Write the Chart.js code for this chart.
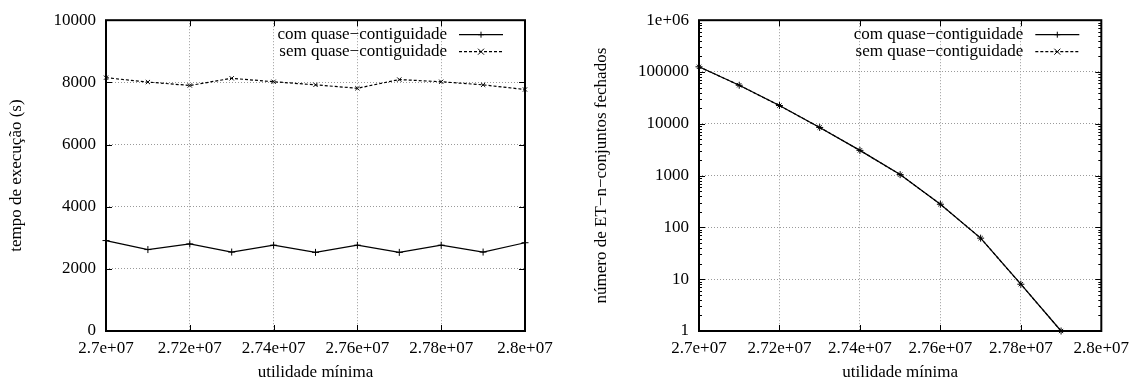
<!DOCTYPE html>
<html lang="pt">
<head>
<meta charset="UTF-8">
<title>utilidade mínima</title>
<script src="https://cdn.jsdelivr.net/npm/chart.js"></script>
<style>
  html, body { margin: 0; padding: 0; background: #fff; }
  #wrap { position: relative; width: 1136px; height: 379px; }
  .pane { position: absolute; top: 0; width: 568px; height: 379px; }
</style>
</head>
<body>
<div id="wrap">
  <div class="pane" style="left:0"><canvas id="tempo" width="568" height="379"></canvas></div>
  <div class="pane" style="left:568px"><canvas id="numero" width="568" height="379"></canvas></div>
</div>
<script>
// data
const utilidade = [27000000, 27100000, 27200000, 27300000, 27400000, 27500000,
                   27600000, 27700000, 27800000, 27900000, 28000000];
const tempoCom = [2910, 2620, 2800, 2540, 2760, 2530, 2760, 2530, 2760, 2540, 2840];
const tempoSem = [8150, 8010, 7900, 8130, 8020, 7920, 7810, 8090, 8020, 7920, 7770];
const conjCom = [126000, 55500, 22500, 8500, 3070, 1045, 280, 62, 8, 1, null];
const conjSem = [126000, 55500, 22500, 8500, 3070, 1045, 280, 62, 8, 1, null];

const xTicks = [27000000, 27200000, 27400000, 27600000, 27800000, 28000000];
const tempoTicks = [0, 2000, 4000, 6000, 8000, 10000];
const conjTicks = [1, 10, 100, 1000, 10000, 100000, 1000000];
const seriesNames = ['com quase−contiguidade', 'sem quase−contiguidade'];

const FONT = { family: '"Liberation Serif", "DejaVu Serif", serif', size: 17 };
Chart.defaults.color = '#000';
Chart.defaults.font = FONT;

function expLabel(v) {
  // gnuplot style %g: 2.72e+07
  return Number(v.toPrecision(6)).toExponential().replace(/e([+-])(\d)$/, 'e$10$2');
}

// border, inward tick marks and the key, drawn the way gnuplot does
const gnuplotFrame = {
  id: 'gnuplotFrame',
  afterDatasetsDraw(chart, args, opts) {
    const { ctx, chartArea: a, scales: { x, y } } = chart;
    const seg = (x1, y1, x2, y2) => { ctx.beginPath(); ctx.moveTo(x1, y1); ctx.lineTo(x2, y2); ctx.stroke(); };
    ctx.save();
    ctx.strokeStyle = '#000';
    ctx.lineWidth = 1;
    x.ticks.forEach(t => {
      const px = Math.round(x.getPixelForValue(t.value)) + 0.5;
      seg(px, a.bottom, px, a.bottom - 6);
      seg(px, a.top, px, a.top + 6);
    });
    y.ticks.forEach(t => {
      const py = Math.round(y.getPixelForValue(t.value)) + 0.5;
      seg(a.left, py, a.left + 6, py);
      seg(a.right, py, a.right - 6, py);
    });
    (opts.minor || []).forEach(v => {
      const py = Math.round(y.getPixelForValue(v)) + 0.5;
      seg(a.left, py, a.left + 3, py);
      seg(a.right, py, a.right - 3, py);
    });
    ctx.lineWidth = 2;
    ctx.strokeRect(a.left, a.top, a.right - a.left, a.bottom - a.top);

    // key
    ctx.font = `${FONT.size}px ${FONT.family}`;
    ctx.fillStyle = '#000';
    ctx.textAlign = 'right';
    ctx.textBaseline = 'middle';
    chart.data.datasets.forEach((ds, i) => {
      const yy = a.top + 14 + i * 17 + 0.5;
      ctx.fillText(ds.label, a.right - 78, yy);
      ctx.lineWidth = ds.borderWidth;
      ctx.setLineDash(ds.borderDash || []);
      seg(a.right - 66, yy, a.right - 22, yy);
      ctx.setLineDash([]);
      ctx.lineWidth = 1;
      const cx = a.right - 44, r = 3;
      if (ds.pointStyle === 'cross') {
        seg(cx - r, yy, cx + r, yy); seg(cx, yy - r, cx, yy + r);
      } else {
        seg(cx - r, yy - r, cx + r, yy + r); seg(cx - r, yy + r, cx + r, yy - r);
      }
    });
    ctx.restore();
  }
};

function series(label, data, dashed) {
  return {
    label, data,
    borderColor: '#000',
    backgroundColor: '#000',
    borderWidth: 1.2,
    borderDash: dashed ? [3, 2] : [],
    pointStyle: dashed ? 'crossRot' : 'cross',
    pointRadius: dashed ? 3 : 3.5,
    pointBorderWidth: 1,
    pointBorderColor: '#000',
    tension: 0,
    clip: false
  };
}

function makeChart(id, opts) {
  const grid = { color: '#9a9a9a', lineWidth: 1, drawTicks: false };
  const border = { display: false, dash: [1, 2] };
  return new Chart(document.getElementById(id), {
    type: 'line',
    data: {
      labels: utilidade,
      datasets: [
        series(seriesNames[0], opts.com, false),
        series(seriesNames[1], opts.sem, true)
      ]
    },
    options: {
      responsive: false,
      animation: false,
      layout: { padding: { left: 0, right: opts.padRight, top: 19, bottom: 0 } },
      plugins: {
        legend: { display: false },
        tooltip: { enabled: false },
        gnuplotFrame: { minor: opts.minor }
      },
      scales: {
        x: {
          type: 'linear',
          min: 27000000, max: 28000000,
          afterBuildTicks: s => { s.ticks = xTicks.map(v => ({ value: v })); },
          afterFit: s => { s.height = 48; },
          grid, border,
          ticks: { padding: 7, maxRotation: 0, autoSkip: false, callback: v => expLabel(v) },
          title: { display: true, text: 'utilidade mínima', padding: { top: -4, bottom: -4 } }
        },
        y: {
          type: opts.log ? 'logarithmic' : 'linear',
          min: opts.yTicks[0], max: opts.yTicks[opts.yTicks.length - 1],
          afterBuildTicks: s => { s.ticks = opts.yTicks.map(v => ({ value: v })); },
          afterFit: s => { s.width = opts.axisWidth; },
          grid, border,
          ticks: {
            padding: 10, autoSkip: false,
            callback: v => (v >= 1000000 ? expLabel(v) : String(v))
          },
          title: { display: true, text: opts.yTitle, padding: { top: opts.titlePad, bottom: 0 } }
        }
      }
    },
    plugins: [gnuplotFrame]
  });
}

const minorLog = [];
conjTicks.slice(0, -1).forEach(d => { for (let k = 2; k <= 9; k++) minorLog.push(d * k); });

makeChart('tempo', {
  com: tempoCom, sem: tempoSem,
  yTicks: tempoTicks, log: false,
  yTitle: 'tempo de execução (s)',
  axisWidth: 106, padRight: 43, titlePad: 6, minor: []
});

makeChart('numero', {
  com: conjCom, sem: conjSem,
  yTicks: conjTicks, log: true,
  yTitle: 'número de ET−n−conjuntos fechados',
  axisWidth: 131, padRight: 29, titlePad: 23, minor: minorLog
});
</script>
</body>
</html>
